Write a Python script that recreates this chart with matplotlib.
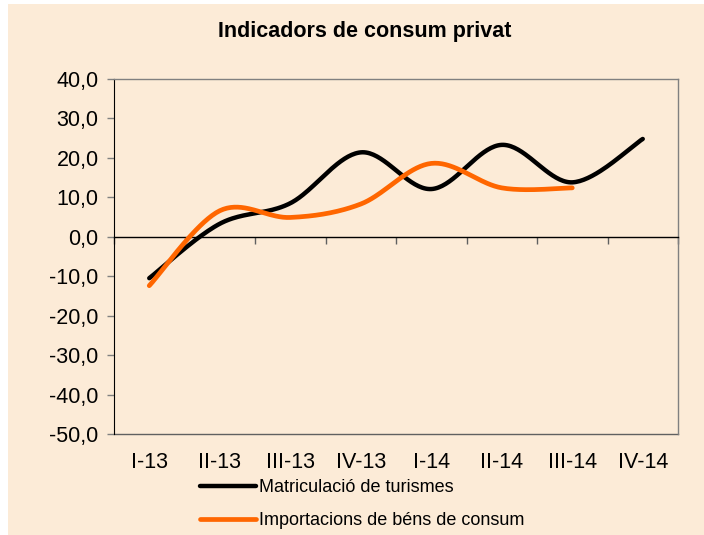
import numpy as np
import matplotlib.pyplot as plt
from matplotlib.patches import Rectangle

plt.rcParams['font.family'] = ['Liberation Sans', 'DejaVu Sans']

quarters = ['I-13', 'II-13', 'III-13', 'IV-13', 'I-14', 'II-14', 'III-14', 'IV-14']
turismes = [-10.5, 3.3, 8.5, 21.4, 12.1, 23.3, 13.8, 24.8]
importacions = [-12.4, 6.6, 4.9, 8.3, 18.6, 12.4, 12.4]
yticks = [40, 30, 20, 10, 0, -10, -20, -30, -40, -50]
ytick_labels = ['40,0', '30,0', '20,0', '10,0', '0,0', '-10,0', '-20,0', '-30,0', '-40,0', '-50,0']

bg = '#FCEBD7'


def smooth(y, n=40):
    # Excel-style smoothed line: cubic Bezier with Catmull-Rom control points
    x = np.arange(len(y), dtype=float)
    p = np.column_stack([x, np.asarray(y, float)])
    out = [p[0]]
    t = np.linspace(0, 1, n)[1:, None]
    for i in range(len(p) - 1):
        p0 = p[i - 1] if i > 0 else p[i]
        p3 = p[i + 2] if i + 2 < len(p) else p[i + 1]
        c1 = p[i] + (p[i + 1] - p0) / 6
        c2 = p[i + 1] - (p3 - p[i]) / 6
        seg = ((1 - t) ** 3 * p[i] + 3 * (1 - t) ** 2 * t * c1
               + 3 * (1 - t) * t ** 2 * c2 + t ** 3 * p[i + 1])
        out.extend(seg)
    out = np.array(out)
    return out[:, 0], out[:, 1]


fig = plt.figure(figsize=(7.04, 5.35), dpi=100, facecolor='white')
fig.patches.append(Rectangle((8 / 704, -0.01), 1, 1.01 - 4 / 535, transform=fig.transFigure,
                             facecolor=bg, edgecolor='none', zorder=-10))

ax = fig.add_axes([114 / 704, 1 - 434 / 535, 564 / 704, 355 / 535])
ax.set_facecolor(bg)

xs, ys = smooth(turismes)
ax.plot(xs, ys, color='black', lw=3.2, solid_capstyle='round', label='Matriculació de turismes', zorder=3)
xs, ys = smooth(importacions)
ax.plot(xs, ys, color='#FF6600', lw=3.4, solid_capstyle='round', label='Importacions de béns de consum', zorder=3)

ax.set_xlim(-0.5, len(quarters) - 0.5)
ax.set_ylim(-50, 40)

# category axis crosses at zero, ticks at boundaries
ax.spines['bottom'].set_position(('data', 0))
ax.spines['bottom'].set_color('black')
ax.spines['bottom'].set_linewidth(1.0)
ax.set_xticks(np.arange(len(quarters) + 1) - 0.5)
ax.tick_params(axis='x', direction='out', length=5, width=1, color='#606060', labelbottom=False)

ax.set_yticks(yticks)
ax.set_yticklabels(ytick_labels)
ax.tick_params(axis='y', direction='out', length=5, width=1, color='#808080', labelsize=15.5, pad=6)
ax.spines['left'].set_color('black')
for s in ['top', 'right']:
    ax.spines[s].set_color('#808080')
    ax.spines[s].set_linewidth(1.0)

sec = ax.secondary_xaxis(0)
sec.set_xticks(range(len(quarters)))
sec.set_xticklabels(quarters)
sec.tick_params(length=0, labelsize=15.5, pad=13)
sec.spines['bottom'].set_color('#606060')
sec.spines['bottom'].set_linewidth(1.0)

fig.text(364.5 / 704, 1 - 32 / 535, 'Indicadors de consum privat', ha='center', va='center',
         fontsize=15.5, fontweight='bold')

fig.legend(loc='upper left', bbox_to_anchor=(200 / 704, 1 - 479 / 535), frameon=False,
           fontsize=13, handlelength=3.1, handletextpad=0.15, labelspacing=0.9,
           borderaxespad=0, borderpad=0)

fig.savefig('out.png', dpi=100, facecolor=fig.get_facecolor())
